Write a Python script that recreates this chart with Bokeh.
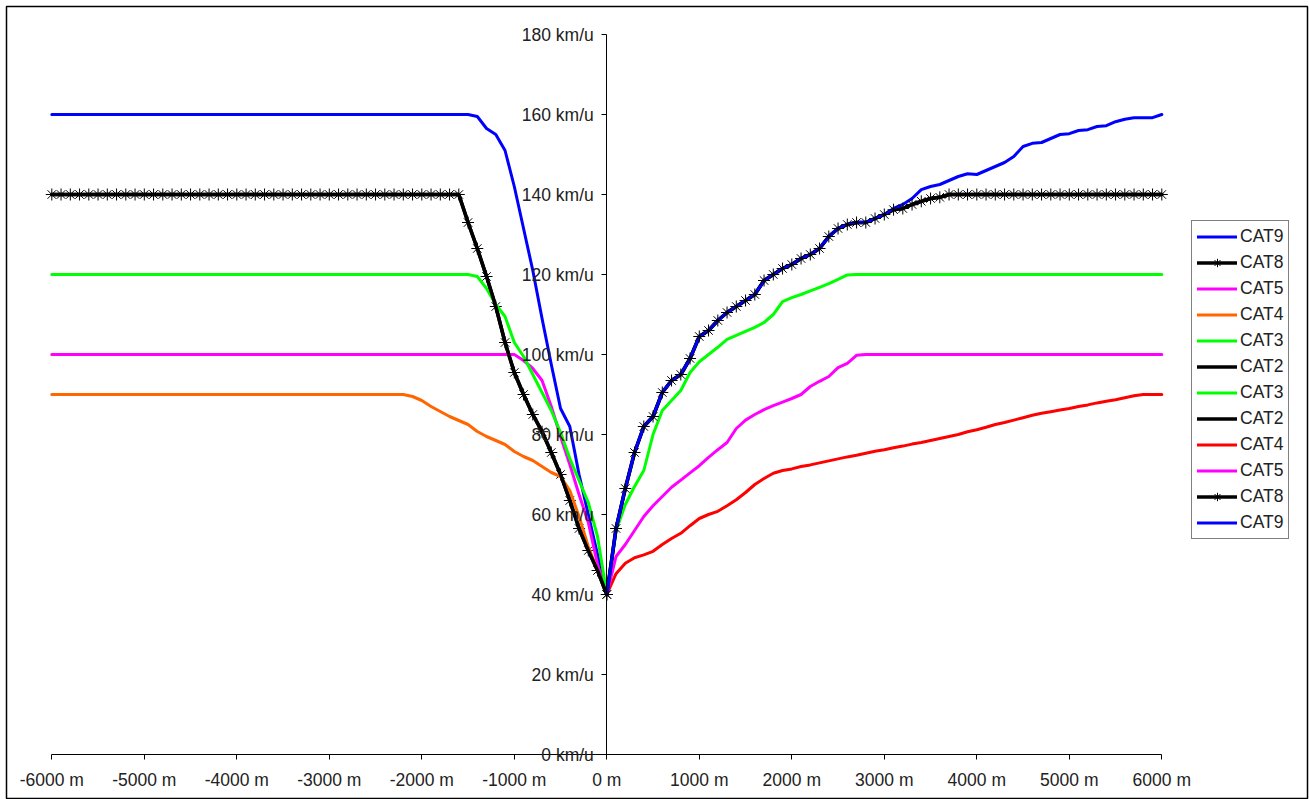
from bokeh.plotting import figure
from bokeh.models import (Range1d, FixedTicker, PrintfTickFormatter, Legend,
                          LegendItem)
from bokeh.embed import file_html
from bokeh.resources import INLINE

# ---------------- data (km/u at every 100 m) ----------------
dist_left = list(range(-6000, 1, 100))    # -6000 .. 0
dist_right = list(range(0, 6001, 100))    # 0 .. 6000

x_ticks = [-6000, -5000, -4000, -3000, -2000, -1000, 0, 1000, 2000, 3000, 4000, 5000, 6000]
y_ticks = [0, 20, 40, 60, 80, 100, 120, 140, 160, 180]

# left side (approach), plateau value then descent to 40 km/u at 0 m
cat9_left = [160] * 45 + [160, 159.5, 156.5, 155, 151, 142, 131.5, 121, 109, 97.5,
                          86.5, 82, 70, 60, 50, 40]
cat8_left = [140] * 45 + [133, 126.5, 119.5, 112, 103, 95.5, 90, 85, 80.7, 75.5,
                          70, 63.5, 56.5, 51, 46, 40]
cat5_left = [100] * 51 + [98.5, 96.5, 93.5, 87, 79.5, 72.5, 65, 58, 47.5, 40]
cat4_left = [90] * 39 + [89.5, 88.5, 87, 85.75, 84.5, 83.5, 82.5, 80.75, 79.5, 78.5,
                         77.5, 75.75, 74.5, 73.5, 72, 70.5, 69.5, 66, 59.5, 52,
                         46, 40]
cat3_left = [120] * 45 + [120, 119.5, 116.5, 112.5, 109.5, 103, 99.5, 95, 90.5, 86,
                          80.5, 74, 68.5, 63, 54.5, 40]
cat2_left = cat8_left

# right side (departure), rise from 40 km/u at 0 m
cat9_right = [40, 56.5, 66.5, 75.5, 82, 84.5, 90.5, 93.5, 95, 99,
              104.5, 106, 108.5, 110.5, 112, 113.5, 115, 118.5, 120, 121.5,
              122.5, 124, 125, 126.5, 129.5, 131.5, 132.5, 133, 133, 134,
              135, 136.5, 137.5, 139, 141.2, 142, 142.5, 143.5, 144.5, 145.2,
              145, 146, 147, 148, 149.5, 152, 152.8, 153, 154, 155,
              155.2, 156, 156.2, 157, 157.2, 158.2, 158.8, 159.2, 159.2, 159.2,
              160]
cat8_right = [40, 56.5, 66.5, 75.5, 82, 84.5, 90.5, 93.5, 95, 99,
              104.5, 106, 108.5, 110.5, 112, 113.5, 115, 118.5, 120, 121.5,
              122.5, 124, 125, 126.5, 129.5, 131.5, 132.5, 133, 133, 134,
              135, 136.2, 136.5, 137.5, 138.3, 139, 139.3, 140] + [140] * 23
cat3_right = [40, 56, 62.5, 67, 71, 80, 86, 88.5, 91, 95.5,
              98.2, 100, 101.8, 103.8, 104.8, 105.8, 106.8, 108, 110, 113.2,
              114.2, 115, 115.9, 116.8, 117.7, 118.8, 119.9] + [120] * 34
cat5_right = [40, 49.5, 52.5, 56, 59.5, 62.2, 64.5, 66.8, 68.6, 70.4,
              72.2, 74.3, 76.2, 78, 81.5, 83.6, 85, 86.2, 87.2, 88.1,
              89, 90, 92, 93.3, 94.5, 96.7, 97.8, 99.8] + [100] * 33
cat4_right = [40, 45.2, 47.8, 49.2, 49.9, 50.8, 52.5, 54, 55.3, 57.2,
              59, 60, 60.8, 62.2, 63.7, 65.5, 67.5, 69, 70.3, 71,
              71.4, 72, 72.4, 72.9, 73.4, 73.9, 74.4, 74.8, 75.3, 75.8,
              76.2, 76.7, 77.1, 77.6, 78, 78.5, 79, 79.5, 80, 80.7,
              81.2, 81.8, 82.5, 83, 83.6, 84.2, 84.8, 85.3, 85.7, 86.1,
              86.5, 87, 87.4, 87.9, 88.3, 88.7, 89.2, 89.7, 90, 90,
              90]
cat2_right = cat8_right

# ---------------- figure ----------------
# The frame covers (almost) the whole canvas; its outline is the chart border.
FONT = "Liberation Sans"
FS = "17.5px"
p = figure(width=1309, height=799, output_backend="svg", toolbar_location=None,
           x_range=Range1d(-6489.7, 7575.1), y_range=Range1d(-11.25, 187),
           frame_width=1301, frame_height=793,
           min_border_left=6, min_border_right=2,
           min_border_top=6, min_border_bottom=0)
p.background_fill_color = "white"
p.border_fill_color = "white"
p.outline_line_color = "black"
p.outline_line_width = 1.5
p.xgrid.visible = False
p.ygrid.visible = False

for ax in (p.xaxis[0], p.yaxis[0]):
    ax.axis_line_color = "black"
    ax.axis_line_width = 1
    ax.major_tick_line_color = "black"
    ax.major_tick_in = 0
    ax.major_tick_out = 5
    ax.minor_tick_line_color = None
    ax.major_label_text_font = FONT
    ax.major_label_text_font_size = FS
    ax.major_label_text_color = "#222222"

p.xaxis.ticker = FixedTicker(ticks=x_ticks)
p.xaxis.formatter = PrintfTickFormatter(format="%d m")
p.xaxis.major_label_standoff = 10
p.xaxis.fixed_location = 0
p.xaxis.bounds = (x_ticks[0], x_ticks[-1])
p.yaxis.ticker = FixedTicker(ticks=y_ticks)
p.yaxis.formatter = PrintfTickFormatter(format="%d km/u")
p.yaxis.major_label_standoff = 8
p.yaxis.fixed_location = 0
p.yaxis.bounds = (y_ticks[0], y_ticks[-1])

BLUE, BLACK, MAG, ORANGE, GREEN, RED = "#0000FF", "#000000", "#FF00FF", "#FF6600", "#00FF00", "#FF0000"
LW = 3

def line(x, y, color, lw=LW):
    return p.line(x, y, line_color=color, line_width=lw, line_join="round", line_cap="round")

def stars(x, y):
    return p.scatter(x, y, marker="asterisk", size=12, line_color=BLACK, line_width=1)

# left series
r9l = line(dist_left, cat9_left, BLUE)
r8l = line(dist_left, cat8_left, BLACK, 3.5)
m8l = stars(dist_left, cat8_left)
r5l = line(dist_left, cat5_left, MAG)
r4l = line(dist_left, cat4_left, ORANGE)
r3l = line(dist_left, cat3_left, GREEN)
r2l = line(dist_left, cat2_left, BLACK, 3.5)
# right series
r3r = line(dist_right, cat3_right, GREEN)
r2r = line(dist_right, cat2_right, BLACK, 3.5)
r4r = line(dist_right, cat4_right, RED)
r5r = line(dist_right, cat5_right, MAG)
r8r = line(dist_right, cat8_right, BLACK, 3.5)
r9r = line(dist_right, cat9_right, BLUE)
m8r = stars(dist_right, cat8_right)

items = [
    LegendItem(label="CAT9", renderers=[r9l]),
    LegendItem(label="CAT8", renderers=[r8l, m8l]),
    LegendItem(label="CAT5", renderers=[r5l]),
    LegendItem(label="CAT4", renderers=[r4l]),
    LegendItem(label="CAT3", renderers=[r3l]),
    LegendItem(label="CAT2", renderers=[r2l]),
    LegendItem(label="CAT3", renderers=[r3r]),
    LegendItem(label="CAT2", renderers=[r2r]),
    LegendItem(label="CAT4", renderers=[r4r]),
    LegendItem(label="CAT5", renderers=[r5r]),
    LegendItem(label="CAT8", renderers=[r8r, m8r]),
    LegendItem(label="CAT9", renderers=[r9r]),
]
legend = Legend(items=items, location=(1185, 260), orientation="vertical",
                label_text_font=FONT, label_text_font_size=FS,
                label_text_color="#222222",
                glyph_width=40, glyph_height=21, label_height=21,
                label_standoff=3, spacing=5, padding=5, margin=0,
                border_line_color="black", border_line_width=1,
                background_fill_color="white", background_fill_alpha=1)
p.add_layout(legend, "center")

open("out.html", "w").write(file_html(p, INLINE))
